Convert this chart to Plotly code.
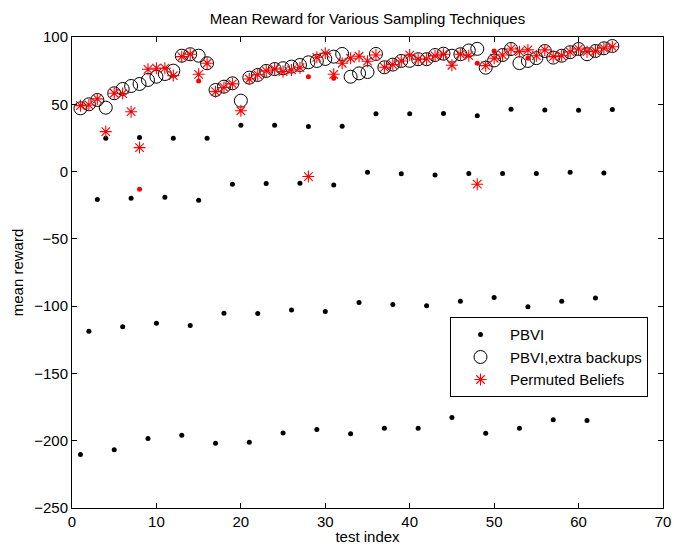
import plotly.graph_objects as go

test_index = list(range(1, 65))

pbvi = [-210.3, -118.6, -20.8, 24.7,
        -206.8, -115.4, -19.8, 25.3,
        -198.4, -112.7, -19.1, 24.7,
        -195.9, -114.4, -21.3, 24.7,
        -201.9, -105.2, -9.4, 34.4,
        -201.1, -105.5, -8.9, 34.4,
        -194.2, -102.8, -8.7, 33.4,
        -191.7, -104.0, -9.9, 33.7,
        -194.9, -97.3, -0.5, 42.9,
        -190.7, -98.8, -1.7, 42.9,
        -190.7, -99.8, -2.5, 43.1,
        -182.8, -96.3, -1.5, 41.4,
        -194.4, -93.6, -1.5, 46.3,
        -190.7, -100.5, -1.5, 45.8,
        -184.5, -96.3, -0.5, 45.6,
        -185.0, -94.0, -1.0, 46.1]

pbvi_extra = [47.0, 50.0, 53.2, 47.5, 58.2, 61.4, 63.6, 65.1, 68.1, 70.5,
              72.5, 75.0, 86.1, 87.2, 86.1, 80.5, 60.6, 63.1, 65.6, 52.7,
              69.8, 71.8, 74.8, 76.2, 76.8, 78.0, 79.2, 81.2, 82.2, 83.7,
              85.4, 87.4, 70.5, 73.0, 74.0, 87.4, 77.5, 79.5, 82.2, 82.3,
              83.5, 83.5, 86.6, 87.6, 86.1, 87.2, 90.0, 91.2, 77.2, 82.6,
              86.6, 91.1, 80.6, 82.2, 84.3, 89.6, 84.7, 86.1, 88.7, 91.1,
              87.2, 89.6, 91.6, 93.3]

permuted = [49.0, 49.5, 54.0, 29.7, 58.2, 58.0, 44.5, 17.8, 76.0, 76.8,
            76.8, 71.3, 85.4, 87.2, 72.3, 80.5, 59.4, 62.5, 65.2, 45.2,
            68.8, 72.0, 74.8, 76.2, 74.3, 75.5, 77.2, -3.7, 84.9, 87.9,
            72.3, 80.5, 84.2, 85.7, 82.0, 86.6, 77.5, 79.5, 82.2, 86.6,
            83.5, 83.7, 86.0, 87.2, 79.0, 87.2, 86.1, -9.4, 78.7, 84.2,
            86.6, 91.1, 89.1, 90.4, 86.1, 90.4, 85.4, 86.1, 89.0, 91.1,
            89.1, 89.6, 91.6, 92.8]

extra_dot_x = [8, 15, 28, 31, 48, 50, 54]
extra_dot_y = [-13.1, 67.3, 70.5, 69.3, 80.5, 89.6, 84.2]

x_ticks = [0, 10, 20, 30, 40, 50, 60, 70]
y_ticks = [-250, -200, -150, -100, -50, 0, 50, 100]

FONT = "Liberation Sans, Arial, sans-serif"
FS = 15

fig = go.Figure()
fig.add_trace(go.Scatter(x=test_index, y=pbvi, mode="markers", name="PBVI",
                         marker=dict(symbol="circle", size=5, color="black")))
fig.add_trace(go.Scatter(x=test_index, y=pbvi_extra, mode="markers", name="PBVI,extra backups",
                         marker=dict(symbol="circle-open", size=13, color="black",
                                     line=dict(color="black", width=1))))
fig.add_trace(go.Scatter(x=test_index, y=permuted, mode="markers", name="Permuted Beliefs",
                         marker=dict(symbol="asterisk-open", size=10, color="red",
                                     line=dict(color="red", width=1.1))))
fig.add_trace(go.Scatter(x=extra_dot_x, y=extra_dot_y, mode="markers", showlegend=False,
                         marker=dict(symbol="circle", size=5, color="red")))

axis_common = dict(showline=True, mirror="ticks", linecolor="black", linewidth=1,
                   ticks="inside", ticklen=5, tickcolor="black", showgrid=False,
                   zeroline=False, automargin=False,
                   tickfont=dict(family=FONT, size=FS, color="black"))

fig.update_layout(
    width=678, height=548,
    margin=dict(l=72, r=15, t=37, b=40, autoexpand=False),
    paper_bgcolor="white", plot_bgcolor="white",
    title=dict(text="Mean Reward for Various Sampling Techniques", xref="paper", x=0.5,
               xanchor="center", y=1 - 19 / 548, yanchor="middle",
               font=dict(family=FONT, size=FS, color="black")),
    xaxis=dict(range=[0, 70], tickvals=x_ticks,
               title=dict(text="test index", standoff=2, font=dict(family=FONT, size=FS, color="black")),
               **axis_common),
    yaxis=dict(range=[-250, 100], tickvals=y_ticks,
               title=dict(text="mean reward", standoff=6, font=dict(family=FONT, size=FS, color="black")),
               **axis_common),
    legend=dict(x=0.6396, y=0.405, xanchor="left", yanchor="top",
                bgcolor="white", bordercolor="black", borderwidth=1,
                font=dict(family=FONT, size=FS, color="black"),
                itemwidth=49, tracegroupgap=0),
    showlegend=True,
)

fig.write_html("out.html", config={"displayModeBar": False},
               post_script="document.body.style.margin='0px';")
